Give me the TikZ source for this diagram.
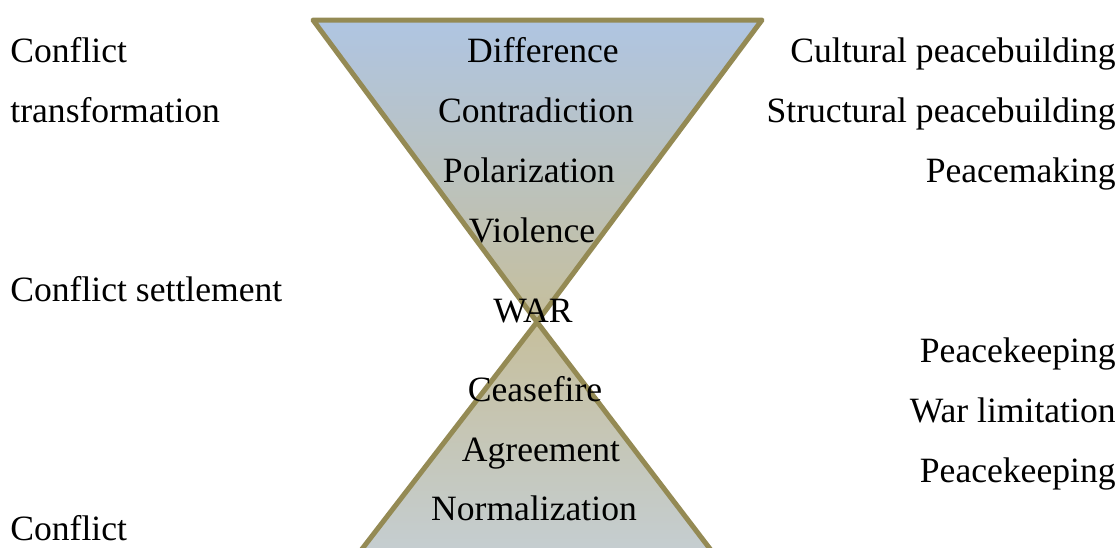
\documentclass[tikz,border=0pt]{standalone}
\usepackage{fontspec}
\setmainfont{Liberation Serif}
\definecolor{rimolive}{HTML}{948A54}
\definecolor{topblue}{HTML}{AFC5E2}
\definecolor{waistkhaki}{HTML}{C6BF9C}
\definecolor{footgrey}{HTML}{C5CED3}
\begin{document}
\begin{tikzpicture}[x=0.5pt,y=-0.5pt,
  lbl/.style={font=\fontsize{17.8}{20}\selectfont,inner sep=0pt,anchor=base},
  rim/.style={draw=rimolive,line width=2.5pt,line join=round}]
\useasboundingbox (0,0) rectangle (1120,547);
% hourglass
\coordinate (tl) at (313,20);
\coordinate (tr) at (762,20);
\coordinate (waist) at (537,322);
\coordinate (bl) at (352,562);
\coordinate (br) at (720,562);
\begin{scope}
\clip (0,0) rectangle (1120,547);
\shade[top color=topblue,bottom color=waistkhaki] (tl)--(tr)--(waist)--cycle;
\draw[rim] (tl)--(tr)--(waist)--cycle;
\shade[top color=waistkhaki,bottom color=footgrey] (waist)--(br)--(bl)--cycle;
\draw[rim] (waist)--(br)--(bl)--cycle;
\end{scope}
% stages
\node[lbl] (diff) at (543,62) {Difference};
\node[lbl] (contra) at (536,122) {Contradiction};
\node[lbl] (polar) at (529,182) {Polarization};
\node[lbl] (viol) at (532,242) {Violence};
\node[lbl] (war) at (533,322) {WAR};
\node[lbl] (cease) at (535,401) {Ceasefire};
\node[lbl] (agree) at (541,461) {Agreement};
\node[lbl] (norm) at (534,520) {Normalization};
% left side
\node[lbl,anchor=base west] (ctA) at (10,62) {Conflict};
\node[lbl,anchor=base west] (ctB) at (10,122) {transformation};
\node[lbl,anchor=base west] (cset) at (10,301) {Conflict settlement};
\node[lbl,anchor=base west] (cres) at (10,540) {Conflict};
% right side
\node[lbl,anchor=base east] (cultpb) at (1116,62) {Cultural peacebuilding};
\node[lbl,anchor=base east] (strpb) at (1116,122) {Structural peacebuilding};
\node[lbl,anchor=base east] (pmake) at (1116,182) {Peacemaking};
\node[lbl,anchor=base east] (pkeepA) at (1116,362) {Peacekeeping};
\node[lbl,anchor=base east] (wlim) at (1116,422) {War limitation};
\node[lbl,anchor=base east] (pkeepB) at (1116,482) {Peacekeeping};
\end{tikzpicture}
\end{document}
